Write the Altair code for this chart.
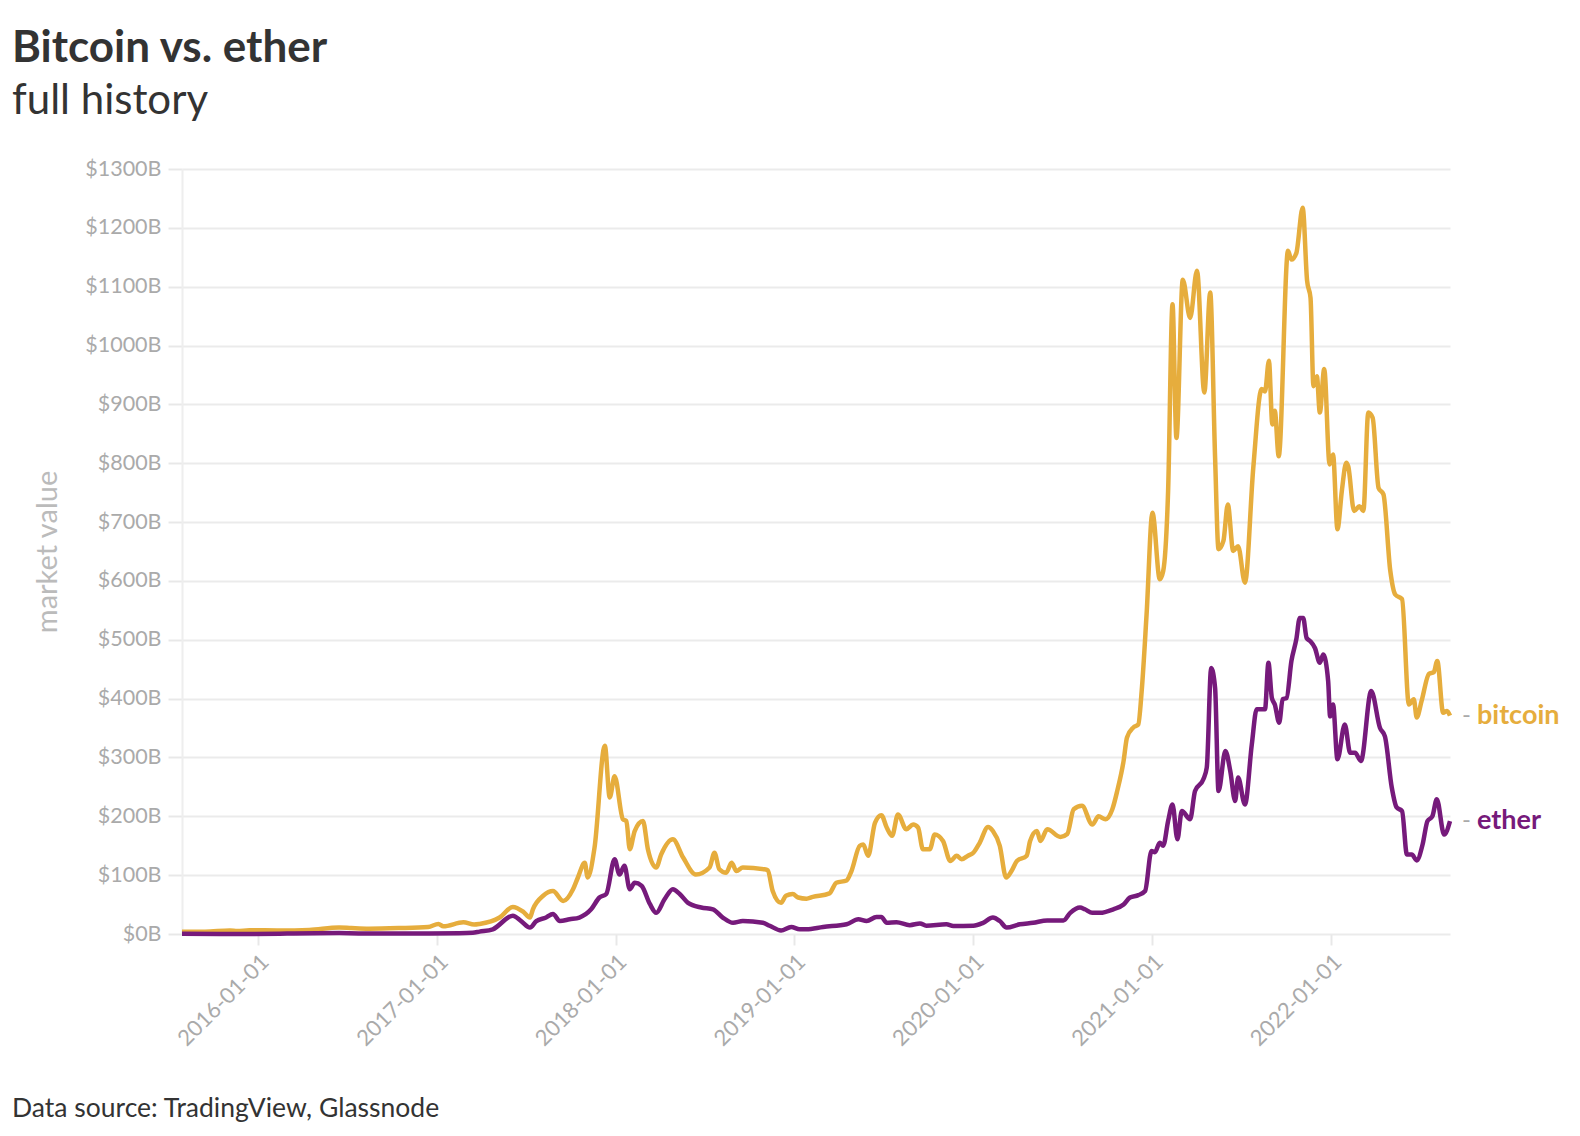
import altair as alt
import pandas as pd

FONT = "Lato"

# ---- data (market value, $ billions) ----
btc_dates = [
    "2015-07-30", "2015-09-15", "2015-11-05", "2015-11-20", "2015-12-15",
    "2016-02-15", "2016-04-15", "2016-06-15", "2016-07-10", "2016-08-15", "2016-10-15", "2016-12-14",
    "2017-01-04", "2017-01-14", "2017-02-24", "2017-03-18", "2017-03-29", "2017-05-09", "2017-06-05",
    "2017-06-26", "2017-07-10", "2017-07-16", "2017-08-06", "2017-08-26", "2017-09-16", "2017-10-06",
    "2017-10-16", "2017-10-30", "2017-11-05", "2017-11-19", "2017-12-10", "2017-12-20", "2017-12-30",
    "2018-01-16", "2018-01-23", "2018-01-30", "2018-02-09", "2018-02-26", "2018-03-08", "2018-03-25",
    "2018-04-04", "2018-04-28", "2018-05-19", "2018-06-14", "2018-07-12", "2018-07-22", "2018-08-01",
    "2018-08-15", "2018-08-26", "2018-09-05", "2018-09-18", "2018-11-01", "2018-11-08", "2018-11-18",
    "2018-12-05", "2018-12-15", "2018-12-29",
    "2019-01-09", "2019-01-26", "2019-02-08", "2019-03-14", "2019-03-28", "2019-04-18", "2019-04-28",
    "2019-05-15", "2019-05-22", "2019-06-01", "2019-06-15", "2019-06-28", "2019-07-09", "2019-07-20",
    "2019-08-01", "2019-08-18", "2019-09-01", "2019-09-11", "2019-09-21", "2019-10-05", "2019-10-15",
    "2019-11-01", "2019-11-16", "2019-11-29", "2019-12-09", "2019-12-22",
    "2020-01-02", "2020-01-15", "2020-02-01", "2020-02-11", "2020-02-25", "2020-03-09", "2020-03-20",
    "2020-03-31", "2020-04-20", "2020-04-27", "2020-05-11", "2020-05-18", "2020-06-01", "2020-06-28",
    "2020-07-12", "2020-07-25", "2020-08-11", "2020-09-01", "2020-09-14", "2020-09-28", "2020-10-12",
    "2020-10-22", "2020-11-04", "2020-11-11", "2020-11-24", "2020-12-04", "2020-12-11", "2020-12-21",
    "2021-01-02", "2021-01-17", "2021-01-24", "2021-02-03", "2021-02-12", "2021-02-20", "2021-03-05",
    "2021-03-20", "2021-04-03", "2021-04-18", "2021-04-30", "2021-05-10", "2021-05-17", "2021-05-27",
    "2021-06-05", "2021-06-16", "2021-06-26", "2021-07-10", "2021-07-27", "2021-08-13", "2021-08-20",
    "2021-08-28", "2021-09-04", "2021-09-09", "2021-09-17", "2021-10-06", "2021-10-13", "2021-10-23",
    "2021-11-05", "2021-11-14", "2021-11-21", "2021-11-27", "2021-12-04", "2021-12-10", "2021-12-19",
    "2021-12-30",
    "2022-01-06", "2022-01-15", "2022-01-24", "2022-02-02", "2022-02-06", "2022-02-18", "2022-03-01",
    "2022-03-09", "2022-03-19", "2022-03-28", "2022-04-09", "2022-04-19", "2022-05-03", "2022-05-13",
    "2022-05-27", "2022-06-10", "2022-06-20", "2022-06-26", "2022-07-06", "2022-07-21", "2022-07-31",
    "2022-08-07", "2022-08-19", "2022-08-27", "2022-09-02",
]
btc_values = [
    4, 4, 6, 5, 6.5,
    6, 7, 11, 10, 9, 10, 12,
    17, 13, 20, 16, 17, 28, 46,
    38, 28, 42, 65, 73, 56, 76,
    96, 121, 96, 147, 320, 232, 268,
    195, 192, 144, 175, 192, 144, 113,
    135, 161, 130, 101, 113, 138, 110,
    104, 121, 107, 113, 110, 108, 73,
    53, 65, 68,
    62, 60, 63, 69, 87, 91, 107,
    150, 152, 133, 189, 202, 181, 167,
    203, 178, 186, 181, 144, 144, 169,
    158, 124, 133, 127, 133,
    138, 155, 182, 175, 150, 96, 107,
    124, 133, 158, 175, 158, 178, 165,
    170, 212, 218, 186, 200, 195, 212,
    243, 294, 334, 351, 356, 413, 543,
    716, 603, 617, 753, 1070, 843, 1112,
    1047, 1127, 920, 1090, 809, 654, 668,
    730, 651, 659, 597, 792, 926, 922,
    974, 866, 889, 812, 1161, 1146, 1157,
    1234, 1110, 1081, 931, 948, 886, 960,
    798,
    815, 688, 753, 801, 795, 719, 727,
    719, 886, 877, 758, 747, 617, 577,
    569, 390, 399, 368, 396, 442, 445,
    464, 376, 379, 371,
]

eth_dates = [
    "2015-07-30", "2015-10-15", "2015-12-15",
    "2016-02-15", "2016-03-15", "2016-06-15", "2016-07-25", "2016-10-15", "2016-12-15",
    "2017-02-15", "2017-03-15", "2017-03-29", "2017-04-25", "2017-06-05", "2017-06-22", "2017-07-10",
    "2017-07-23", "2017-08-12", "2017-08-26", "2017-09-09", "2017-09-29", "2017-10-19", "2017-11-12",
    "2017-11-29", "2017-12-13", "2017-12-30",
    "2018-01-09", "2018-01-19", "2018-01-30", "2018-02-09", "2018-02-23", "2018-03-12", "2018-03-25",
    "2018-04-11", "2018-04-28", "2018-05-12", "2018-05-29", "2018-06-25", "2018-07-19", "2018-08-08",
    "2018-08-29", "2018-09-18", "2018-10-29", "2018-11-12", "2018-12-05", "2018-12-26",
    "2019-01-12", "2019-01-26", "2019-03-01", "2019-04-18", "2019-05-12", "2019-05-29", "2019-06-18",
    "2019-06-28", "2019-07-09", "2019-07-29", "2019-08-25", "2019-09-15", "2019-09-28", "2019-11-08",
    "2019-11-22",
    "2020-01-02", "2020-01-22", "2020-02-11", "2020-02-25", "2020-03-10", "2020-04-06", "2020-05-03",
    "2020-06-01", "2020-07-04", "2020-07-18", "2020-08-07", "2020-08-17", "2020-09-01", "2020-09-17",
    "2020-10-14", "2020-11-04", "2020-11-17", "2020-12-04", "2020-12-18", "2020-12-31",
    "2021-01-07", "2021-01-17", "2021-01-24", "2021-02-03", "2021-02-12", "2021-02-22", "2021-03-03",
    "2021-03-20", "2021-03-30", "2021-04-16", "2021-04-23", "2021-05-02", "2021-05-10", "2021-05-17",
    "2021-05-31", "2021-06-10", "2021-06-20", "2021-06-26", "2021-07-10", "2021-07-24", "2021-08-03",
    "2021-08-20", "2021-08-27", "2021-09-03", "2021-09-09", "2021-09-18", "2021-09-25", "2021-10-03",
    "2021-10-13", "2021-10-23", "2021-10-30", "2021-11-06", "2021-11-13", "2021-11-20", "2021-11-30",
    "2021-12-10", "2021-12-17", "2021-12-27", "2021-12-31",
    "2022-01-06", "2022-01-15", "2022-01-30", "2022-02-10", "2022-02-20", "2022-03-04", "2022-03-25",
    "2022-04-12", "2022-04-22", "2022-05-06", "2022-05-16", "2022-05-27", "2022-06-06", "2022-06-16",
    "2022-06-26", "2022-07-08", "2022-07-18", "2022-07-28", "2022-08-06", "2022-08-21", "2022-09-02",
]
eth_values = [
    0.3, 0.1, 0.1,
    0.4, 1.0, 1.5, 1.0, 1.0, 0.7,
    1.1, 2.0, 4, 8, 31, 22, 11,
    22, 28, 34, 22, 25, 28, 42,
    62, 68, 127,
    101, 116, 76, 87, 82, 51, 36,
    59, 76, 68, 53, 45, 42, 28,
    19, 22, 19, 14, 6, 12,
    8, 8, 12, 16.5, 25, 22, 29,
    29, 19, 20, 15, 18, 14, 16.5,
    13.6,
    14, 19, 28, 22, 11, 16.5, 19,
    23, 23, 36, 45, 42, 36, 36,
    42, 50, 62, 66, 73, 141,
    139, 155, 150, 192, 220, 161, 209,
    195, 243, 263, 283, 452, 418, 243,
    311, 277, 226, 266, 220, 322, 382,
    382, 461, 401, 390, 359, 399, 401,
    464, 501, 537, 537, 503, 498, 486,
    461, 475, 430, 370,
    390, 297, 356, 308, 308, 294, 413,
    350, 336, 249, 215, 209, 135, 135,
    125, 152, 192, 200, 229, 169, 192,
]

series_names = ["bitcoin", "ether"]
series_colors = ["#e6ad3d", "#761a7b"]
year_ticks = [2016, 2017, 2018, 2019, 2020, 2021, 2022]
y_ticks = list(range(0, 1301, 100))
source_text = "Data source: TradingView, Glassnode"

df = pd.concat([
    pd.DataFrame({"date": btc_dates, "value": btc_values, "coin": "bitcoin"}),
    pd.DataFrame({"date": eth_dates, "value": eth_values, "coin": "ether"}),
], ignore_index=True)

last = pd.DataFrame({
    "date": [btc_dates[-1], eth_dates[-1]],
    "value": [btc_values[-1], eth_values[-1]],
    "coin": series_names,
})

W, H = 1268, 765

color = alt.Color("coin:N", scale=alt.Scale(domain=series_names, range=series_colors), legend=None)

x_enc = alt.X(
    "date:T",
    title=None,
    scale=alt.Scale(nice=False, padding=0),
    axis=alt.Axis(
        values=[alt.DateTime(year=y, month=1, date=1) for y in year_ticks],
        format="%Y-%m-%d",
        labelAngle=-45,
        labelFontSize=22,
        labelColor="#aaaaaa",
        labelFont=FONT,
        labelPadding=6,
        tickSize=11,
        tickWidth=2,
        tickColor="#e8e8e8",
        domain=False,
        grid=False,
    ),
)
y_enc = alt.Y(
    "value:Q",
    scale=alt.Scale(domain=[0, 1300], nice=False),
    axis=alt.Axis(
        values=y_ticks,
        labelExpr="'$' + datum.value + 'B'",
        title="market value",
        titleFont=FONT,
        titleFontSize=29,
        titleFontWeight="normal",
        titleColor="#bbbbbb",
        titlePadding=22,
        labelFontSize=21.5,
        labelColor="#aaaaaa",
        labelFont=FONT,
        labelPadding=7,
        tickSize=14,
        tickWidth=2,
        tickColor="#e8e8e8",
        domainColor="#eeeeee",
        domainWidth=2,
        gridColor="#ebebeb",
        gridWidth=2,
    ),
)

lines = alt.Chart(df).mark_line(strokeWidth=4.5, interpolate="monotone").encode(
    x=x_enc, y=y_enc, color=color, detail="coin:N"
)

dash = alt.Chart(last).mark_text(
    text="-", dx=12, align="left", baseline="middle", fontSize=24, color="#aaaaaa", font=FONT
).encode(x="date:T", y="value:Q")

names = alt.Chart(last).mark_text(
    dx=27, align="left", baseline="middle", fontSize=27, fontWeight="bold", font=FONT
).encode(x="date:T", y="value:Q", text="coin:N", color=color)

footer = alt.Chart(pd.DataFrame({"t": [source_text]})).mark_text(
    align="left", baseline="alphabetic", fontSize=26.5, color="#333333", font=FONT
).encode(x=alt.value(-170), y=alt.value(948), text="t:N")

chart = alt.layer(lines, dash, names, footer).properties(
    width=W,
    height=H,
    autosize=alt.AutoSizeParams(type="none"),
    padding={"left": 174, "top": 161, "right": 122, "bottom": 190},
    title=alt.TitleParams(
        text="Bitcoin vs. ether",
        subtitle="full history",
        anchor="start",
        frame="group",
        dx=-170,
        offset=36,
        font=FONT,
        fontSize=44,
        fontWeight="bold",
        color="#333333",
        subtitleFont=FONT,
        subtitleFontSize=42,
        subtitleColor="#333333",
        subtitlePadding=10,
    ),
).configure(font=FONT, background="white").configure_view(stroke=None)

chart.save("out.html", embed_options={"renderer": "svg", "actions": False})
